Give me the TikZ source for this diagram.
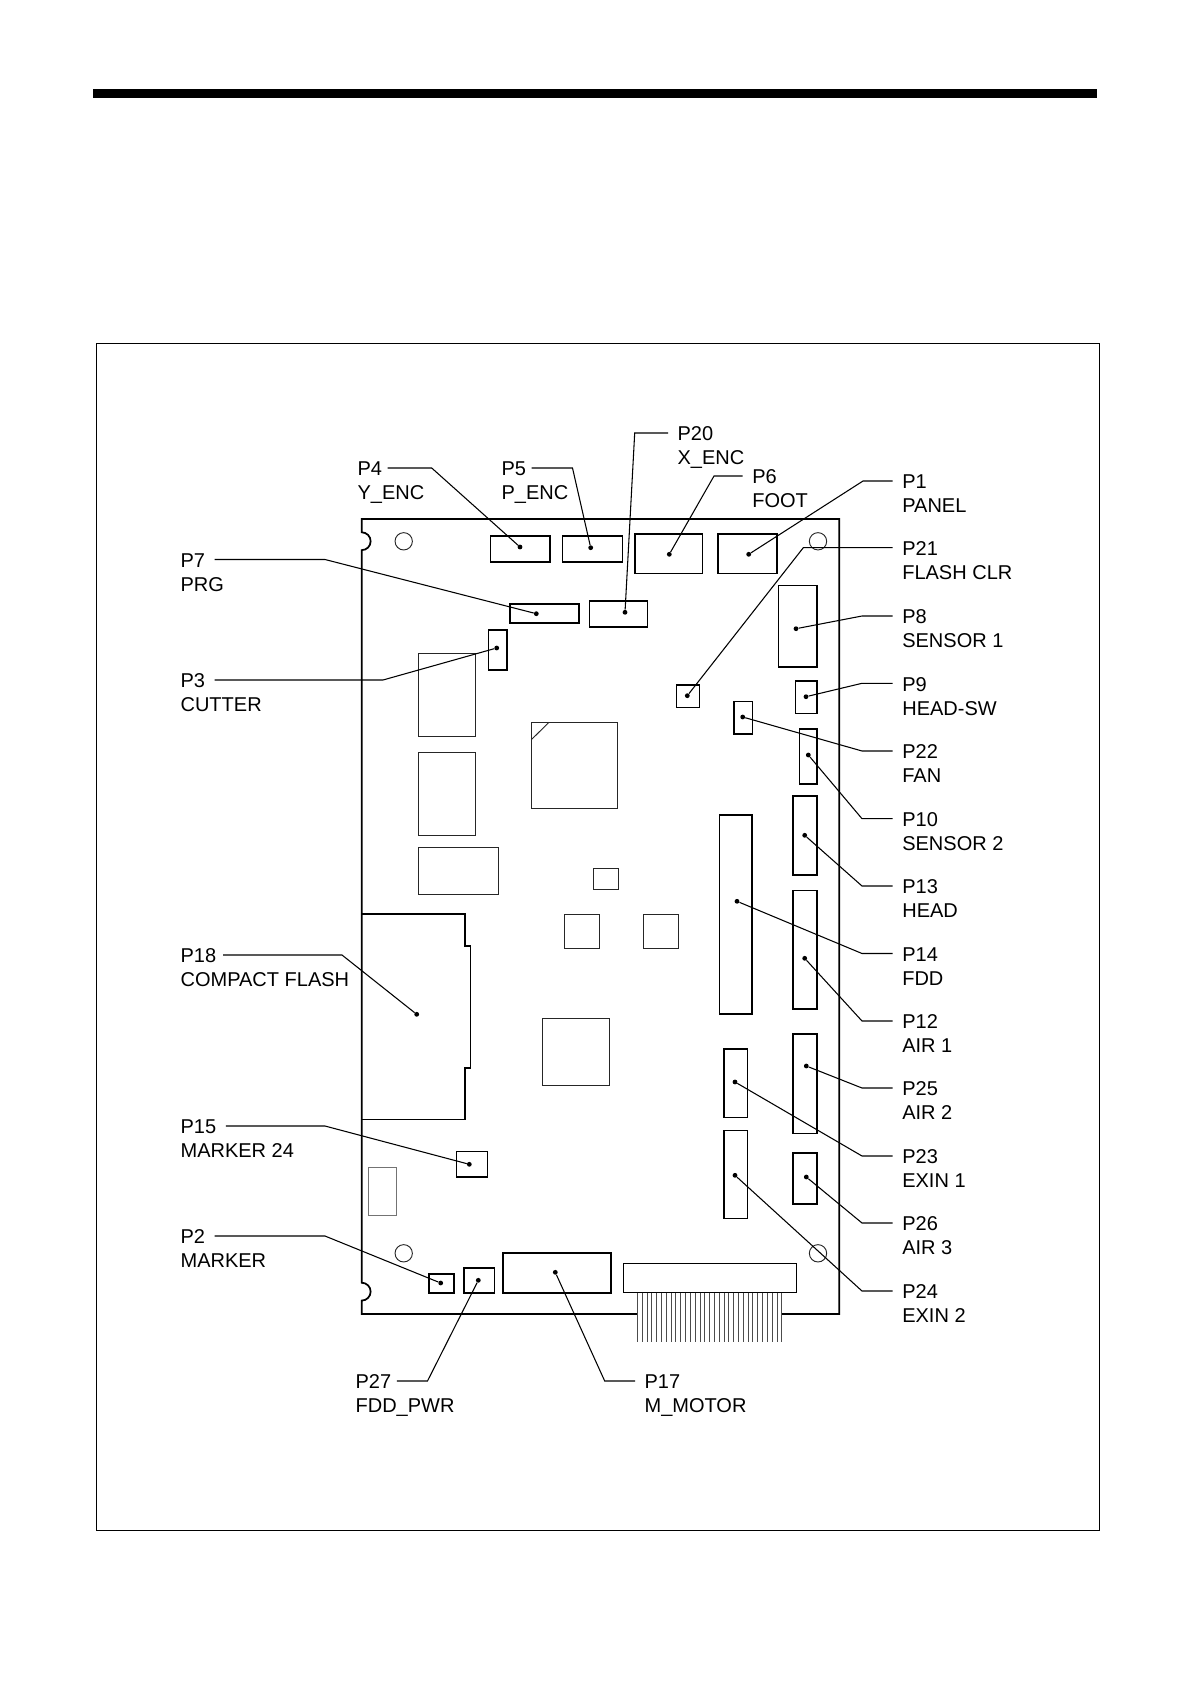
\documentclass[tikz,border=0pt]{standalone}
\usepackage{fontspec}
\setmainfont{Liberation Sans}
\tikzset{conn/.style={draw=black,line width=1.2pt}}
\tikzset{chip/.style={draw=black!85,line width=.7pt}}
\tikzset{dot/.style={circle,fill=black,inner sep=0pt,minimum size=3.6pt}}
\tikzset{lbl/.style={anchor=west,inner xsep=7pt,inner ysep=0pt,text height=11.7pt,text depth=0pt,font=\fontsize{15}{18}\selectfont}}
\tikzset{leader/.style={draw=black,line width=.8pt}}
\begin{document}
\begin{tikzpicture}[x=.75pt,y=-.75pt]
    \useasboundingbox (0,0) rectangle (1190,1684);
    \fill (93,89) rectangle (1096.7,98);
    \draw [line width=1pt] (96.4,343.5) rectangle (1099.3,1530.7);

    \draw [line width=1.3pt] (781.7,1314) -- (839.3,1314) -- (839.3,519) -- (361.7,519) -- (361.7,532.3)
        arc [start angle=90,end angle=-90,radius=6.7pt] -- (361.7,1282.7)
        arc [start angle=90,end angle=-90,radius=6.7pt] -- (361.7,1314) -- (637.3,1314);

    \foreach \x/\y in {403.7/541.3,818/541.3,403.7/1253.3,818/1253.3}
    \draw [chip] (\x,\y) circle [radius=6.5pt];

    \draw [conn] (490.3,535.7) rectangle (550,561.7);
    \draw [conn] (562.3,535.7) rectangle (622.3,561.7);
    \draw [conn] (635,533.7) rectangle (702.3,573.3);
    \draw [conn] (717.7,533.7) rectangle (776.7,573.3);
    \draw [conn] (509.7,604) rectangle (579,622.7);
    \draw [conn] (589.3,600.7) rectangle (647.3,627);
    \draw [conn] (488.3,630) rectangle (507,669.7);
    \draw [conn] (676.3,684.7) rectangle (699.3,707.3);
    \draw [conn] (778.3,585.3) rectangle (816.7,667);
    \draw [conn] (795.3,681) rectangle (816.7,713.3);
    \draw [conn] (733.7,701.3) rectangle (752.3,734);
    \draw [conn] (799.3,729) rectangle (816.7,784);
    \draw [conn] (793,796) rectangle (816.7,874.7);
    \draw [conn] (719.3,814.7) rectangle (752,1014);
    \draw [conn] (793,890.3) rectangle (816.7,1009);
    \draw [conn] (793,1033.7) rectangle (816.7,1133.3);
    \draw [conn] (724,1048.7) rectangle (747.3,1117.3);
    \draw [conn] (724,1130.3) rectangle (747.3,1218.3);
    \draw [conn] (793,1152.7) rectangle (816.7,1204);
    \draw [conn] (503,1252.7) rectangle (610.7,1292.7);
    \draw [conn] (463.7,1268) rectangle (494.3,1292.7);
    \draw [conn] (428.7,1274) rectangle (454,1292.7);
    \draw [conn] (456.3,1151.3) rectangle (487.3,1177);
    \draw [conn] (361.7,914) -- (464.7,914) -- (464.7,945.7) -- (470.3,945.7) -- (470.3,1067.7)
        -- (464.7,1067.7) -- (464.7,1119.3) -- (361.7,1119.3);

    \draw [chip] (418.3,653.7) rectangle (475.3,736.3);
    \draw [chip] (418.3,752.3) rectangle (475.3,835.3);
    \draw [chip] (418.3,847.3) rectangle (498.7,894.3);
    \draw [chip] (531.3,722.3) rectangle (617.7,808.3);
    \draw [chip] (531.3,739.7) -- (549,722.3);
    \draw [chip] (593.3,868.3) rectangle (618.7,889.3);
    \draw [chip] (564.3,914.3) rectangle (599.3,948.3);
    \draw [chip] (643.3,914.3) rectangle (678.7,948.3);
    \draw [chip] (542.3,1018.3) rectangle (609.3,1085.3);
    \draw [chip,draw=black!55] (368.7,1167.3) rectangle (396.7,1215.7);
    \draw [conn,line width=.8pt] (623.3,1263.7) rectangle (796.3,1292.7);

    \foreach \i in {0,...,30}
    \draw [draw=black!70,line width=.5pt] (637.3+4.813*\i,1292.7) -- (637.3+4.813*\i,1341.7);

    \node [dot] (c4)  at (520,547) {};
    \node [dot] (c5)  at (590.7,547.7) {};
    \node [dot] (c6)  at (669.3,554.3) {};
    \node [dot] (c1)  at (748.7,554.3) {};
    \node [dot] (c7)  at (536.3,613.7) {};
    \node [dot] (c20) at (625,612.3) {};
    \node [dot] (c3)  at (496.7,648) {};
    \node [dot] (c21) at (687.3,695.7) {};
    \node [dot] (c8)  at (796,628.7) {};
    \node [dot] (c9)  at (806,696.7) {};
    \node [dot] (c22) at (742.7,717) {};
    \node [dot] (c10) at (808.3,755) {};
    \node [dot] (c13) at (804.7,835.3) {};
    \node [dot] (c14) at (737,901.3) {};
    \node [dot] (c12) at (804.7,958.3) {};
    \node [dot] (c25) at (806.3,1066) {};
    \node [dot] (c23) at (735,1082) {};
    \node [dot] (c24) at (735,1175.3) {};
    \node [dot] (c26) at (806.3,1177) {};
    \node [dot] (c17) at (555.3,1272.3) {};
    \node [dot] (c27) at (478.3,1280.3) {};
    \node [dot] (c2)  at (440.7,1283) {};
    \node [dot] (c15) at (469.3,1164.3) {};
    \node [dot] (c18) at (416.7,1014.3) {};

    \foreach \name/\x/\y/\sub in {P4/348/468/Y\_ENC,P5/492/468/P\_ENC,P20/668/433/X\_ENC,P6/742.7/476/FOOT,
        P7/171/559.5/PRG,P3/171/680/CUTTER,P18/171/955/COMPACT FLASH,P15/171/1126/MARKER 24,P2/171/1236/MARKER,
        P1/892.7/481/PANEL,P21/892.7/547.7/FLASH CLR,P8/892.7/616/SENSOR 1,P9/892.7/683.3/HEAD-SW,
        P22/892.7/751/FAN,P10/892.7/818.7/SENSOR 2,P13/892.7/886/HEAD,P14/892.7/953.5/FDD,P12/892.7/1021/AIR 1,
        P25/892.7/1088/AIR 2,P23/892.7/1156/EXIN 1,P26/892.7/1223/AIR 3,P24/892.7/1291/EXIN 2,
        P27/346/1381/FDD\_PWR,P17/635/1381/M\_MOTOR}
    {
        \node [lbl] (\name) at (\x,\y) {\name};
        \node [lbl] (\name-sub) at (\x,\y+24) {\sub};
    }

    \coordinate (P4a) at ([xshift=-3pt]P4.east);
    \coordinate (P5a) at ([xshift=-3pt]P5.east);
    \coordinate (P18a) at ([xshift=-2pt]P18.east);
    \coordinate (P27a) at ([xshift=-3pt]P27.east);

    \foreach \from/\ex/\to in {P4a/431.7/c4,P5a/572.5/c5,P20.west/634.7/c20,P6.west/714/c6,
        P7.east/325/c7,P3.east/383/c3,P18a/342/c18,P15.east/325/c15,P2.east/325/c2,
        P1.west/863/c1,P21.west/803.3/c21,P8.west/862/c8,P9.west/862/c9,P22.west/862/c22,P10.west/862/c10,
        P13.west/862/c13,P14.west/862/c14,P12.west/862/c12,P25.west/862/c25,P23.west/862/c23,P26.west/862/c26,
        P24.west/862/c24,P27a/427.5/c27,P17.west/604.7/c17}
    \draw [leader] (\from) -- (\ex,0 |- \from) -- (\to);
\end{tikzpicture}
\end{document}
